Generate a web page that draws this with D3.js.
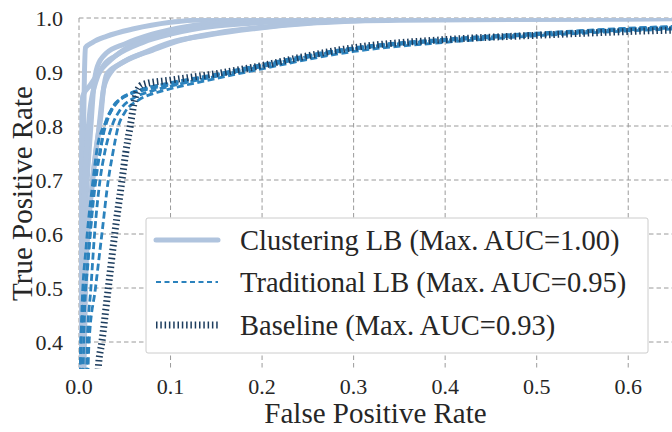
<!DOCTYPE html>
<html>
<head>
<meta charset="utf-8">
<script src="https://cdn.jsdelivr.net/npm/d3@7"></script>
<style>
  html, body { margin: 0; padding: 0; background: #ffffff; }
  svg { display: block; }
</style>
</head>
<body>
<svg id="chart" width="672" height="432"></svg>
<script>
// ---------- data (FPR, TPR) ----------
const xTicks = [0.0, 0.1, 0.2, 0.3, 0.4, 0.5, 0.6];
const yTicks = [0.4, 0.5, 0.6, 0.7, 0.8, 0.9, 1.0];
const xLabel = "False Positive Rate";
const yLabel = "True Positive Rate";
const seriesNames = ["Clustering LB (Max. AUC=1.00)", "Traditional LB (Max. AUC=0.95)", "Baseline (Max. AUC=0.93)"];

const clustering1 = [[0.003,0.30],[0.004,0.60],[0.005,0.80],[0.006,0.90],[0.007,0.945],[0.015,0.955],[0.03,0.966],[0.06,0.98],[0.10,0.992],[0.15,0.998],[0.20,1.0],[0.70,1.0]];
const clustering2 = [[0.001,0.30],[0.002,0.60],[0.003,0.80],[0.004,0.855],[0.012,0.875],[0.022,0.90],[0.04,0.93],[0.07,0.96],[0.10,0.975],[0.15,0.99],[0.25,1.0],[0.70,1.0]];
const clustering3 = [[0.003,0.30],[0.005,0.55],[0.009,0.70],[0.013,0.80],[0.016,0.87],[0.020,0.91],[0.03,0.935],[0.05,0.952],[0.08,0.97],[0.12,0.985],[0.20,0.996],[0.30,1.0],[0.70,1.0]];
const clustering4 = [[0.004,0.30],[0.006,0.50],[0.012,0.65],[0.018,0.75],[0.024,0.82],[0.027,0.87],[0.035,0.90],[0.05,0.92],[0.08,0.94],[0.11,0.958],[0.15,0.972],[0.20,0.983],[0.26,0.992],[0.35,0.997],[0.60,0.998],[0.70,1.0]];
const clustering5 = [[0.002,0.30],[0.004,0.60],[0.008,0.75],[0.012,0.83],[0.018,0.88],[0.026,0.91],[0.04,0.93],[0.07,0.955],[0.10,0.97],[0.15,0.985],[0.25,0.995],[0.40,1.0],[0.70,1.0]];
const clustering6 = [[0.005,0.30],[0.008,0.55],[0.015,0.70],[0.022,0.80],[0.026,0.86],[0.030,0.895],[0.045,0.915],[0.07,0.935],[0.10,0.955],[0.14,0.968],[0.19,0.98],[0.26,0.991],[0.35,0.996],[0.70,0.999]];

const traditional1 = [[0.0005,0.30],[0.002,0.40],[0.007,0.50],[0.012,0.60],[0.017,0.70],[0.023,0.75],[0.028,0.80],[0.035,0.83],[0.05,0.855],[0.07,0.866],[0.10,0.876],[0.15,0.893],[0.20,0.91],[0.30,0.942],[0.40,0.958],[0.50,0.969],[0.60,0.978],[0.70,0.985]];
const traditional2 = [[0.008,0.30],[0.009,0.40],[0.013,0.50],[0.017,0.60],[0.023,0.70],[0.028,0.75],[0.036,0.80],[0.045,0.83],[0.06,0.852],[0.08,0.865],[0.10,0.874],[0.15,0.892],[0.20,0.911],[0.30,0.943],[0.40,0.959],[0.50,0.97],[0.60,0.979],[0.70,0.986]];
const traditional3 = [[0.009,0.30],[0.011,0.40],[0.018,0.50],[0.025,0.60],[0.032,0.70],[0.037,0.75],[0.043,0.80],[0.05,0.825],[0.065,0.848],[0.085,0.862],[0.10,0.869],[0.15,0.888],[0.20,0.906],[0.30,0.938],[0.40,0.955],[0.50,0.967],[0.60,0.976],[0.70,0.983]];
const traditional4 = [[0.004,0.30],[0.006,0.45],[0.010,0.55],[0.015,0.65],[0.020,0.72],[0.026,0.78],[0.033,0.82],[0.042,0.845],[0.055,0.86],[0.075,0.87],[0.10,0.879],[0.15,0.895],[0.20,0.913],[0.30,0.944],[0.40,0.96],[0.50,0.971],[0.60,0.98],[0.70,0.987]];
const traditional5 = [[0.001,0.30],[0.003,0.45],[0.008,0.58],[0.014,0.68],[0.020,0.76],[0.030,0.81],[0.040,0.84],[0.06,0.862],[0.10,0.88],[0.15,0.896],[0.20,0.914],[0.30,0.945],[0.40,0.961],[0.50,0.972],[0.60,0.981],[0.70,0.988]];

const baseline1 = [[0.020,0.30],[0.021,0.35],[0.025,0.40],[0.032,0.50],[0.039,0.60],[0.047,0.70],[0.051,0.75],[0.056,0.80],[0.061,0.85],[0.065,0.87],[0.070,0.877],[0.10,0.885],[0.15,0.897],[0.20,0.912],[0.25,0.93],[0.30,0.945],[0.40,0.96],[0.50,0.968],[0.60,0.975],[0.70,0.98]];

const clusteringCurves = [clustering1, clustering2, clustering3, clustering4, clustering5, clustering6];
const traditionalCurves = [traditional1, traditional2, traditional3, traditional4, traditional5];
const baselineCurves = [baseline1];

// ---------- layout ----------
const FONT = "'Liberation Serif', 'Times New Roman', Times, 'Nimbus Roman', 'Nimbus Roman No9 L', FreeSerif, Tinos, 'Noto Serif', 'DejaVu Serif', serif";
const TEXT_COLOR = "#262626";
const svg = d3.select("#chart");
const pL = 79, pR = 674, pT = 18, pB = 369;
const x = d3.scaleLinear().domain([0, 0.65]).range([pL, pR]);
const y = d3.scaleLinear().domain([0.35, 1.0]).range([pB, pT]);

const colClust = "#b0c4de", colTrad = "#2b82bd", colBase = "#1d3d5e";
const gridColor = "#9a9a9a";

// grid
const grid = svg.append("g");
grid.selectAll("line.v").data(xTicks).enter().append("line")
  .attr("x1", d => x(d)).attr("x2", d => x(d)).attr("y1", pT).attr("y2", pB)
  .attr("stroke", gridColor).attr("stroke-width", 1).attr("stroke-dasharray", "4.5,3");
grid.selectAll("line.h").data(yTicks).enter().append("line")
  .attr("y1", d => y(d)).attr("y2", d => y(d)).attr("x1", pL).attr("x2", pR)
  .attr("stroke", gridColor).attr("stroke-width", 1).attr("stroke-dasharray", "4.5,3");

// tick labels
svg.append("g").selectAll("text").data(xTicks).enter().append("text")
  .attr("x", d => x(d)).attr("y", 394).attr("text-anchor", "middle")
  .attr("font-family", FONT).attr("fill", TEXT_COLOR)
  .attr("font-size", 22).text(d => d3.format(".1f")(d));
svg.append("g").selectAll("text").data(yTicks).enter().append("text")
  .attr("x", 63).attr("y", d => y(d) + 7.5).attr("text-anchor", "end")
  .attr("font-family", FONT).attr("fill", TEXT_COLOR)
  .attr("font-size", 22).text(d => d3.format(".1f")(d));

// axis titles
svg.append("text").attr("x", (pL + 672) / 2).attr("y", 423).attr("text-anchor", "middle")
  .attr("font-family", FONT).attr("fill", TEXT_COLOR)
  .attr("font-size", 29).text(xLabel);
svg.append("text").attr("transform", `translate(32,${(pT + pB) / 2}) rotate(-90)`)
  .attr("font-family", FONT).attr("fill", TEXT_COLOR)
  .attr("text-anchor", "middle").attr("font-size", 29).text(yLabel);

// clip
svg.append("clipPath").attr("id", "plotclip").append("rect")
  .attr("x", pL).attr("y", pT).attr("width", pR - pL).attr("height", pB - pT);

const lineH = d3.line().x(d => x(d[0])).y(d => y(d[1])).curve(d3.curveMonotoneX);
const plot = svg.append("g").attr("clip-path", "url(#plotclip)");

plot.selectAll("path.clu").data(clusteringCurves).enter().append("path")
  .attr("d", lineH).attr("fill", "none").attr("stroke", colClust)
  .attr("stroke-width", 5).attr("stroke-linecap", "round").attr("stroke-linejoin", "round");
plot.selectAll("path.tra").data(traditionalCurves).enter().append("path")
  .attr("d", lineH).attr("fill", "none").attr("stroke", colTrad)
  .attr("stroke-width", 2.8).attr("stroke-dasharray", "7,3.5");
plot.selectAll("path.bas").data(baselineCurves).enter().append("path")
  .attr("d", lineH).attr("fill", "none").attr("stroke", colBase)
  .attr("stroke-width", 7).attr("stroke-dasharray", "1.5,2.8");

// legend
const lg = svg.append("g");
lg.append("rect").attr("x", 146).attr("y", 218).attr("width", 502).attr("height", 135)
  .attr("fill", "#ffffff").attr("stroke", "#cccccc").attr("stroke-width", 1).attr("rx", 2);
const legendY = [240, 282, 325];
lg.append("line").attr("x1", 156).attr("x2", 218).attr("y1", legendY[0]).attr("y2", legendY[0])
  .attr("stroke", colClust).attr("stroke-width", 5).attr("stroke-linecap", "round");
lg.append("line").attr("x1", 156).attr("x2", 218).attr("y1", legendY[1]).attr("y2", legendY[1])
  .attr("stroke", colTrad).attr("stroke-width", 2).attr("stroke-dasharray", "5,3.5");
lg.append("line").attr("x1", 156).attr("x2", 218).attr("y1", legendY[2]).attr("y2", legendY[2])
  .attr("stroke", colBase).attr("stroke-width", 7).attr("stroke-dasharray", "1.5,2.8");
lg.selectAll("text").data(seriesNames).enter().append("text")
  .attr("x", 240).attr("y", (d, i) => legendY[i] + 10)
  .attr("font-family", FONT).attr("fill", TEXT_COLOR)
  .attr("font-size", 28.5).text(d => d);
</script>
</body>
</html>
